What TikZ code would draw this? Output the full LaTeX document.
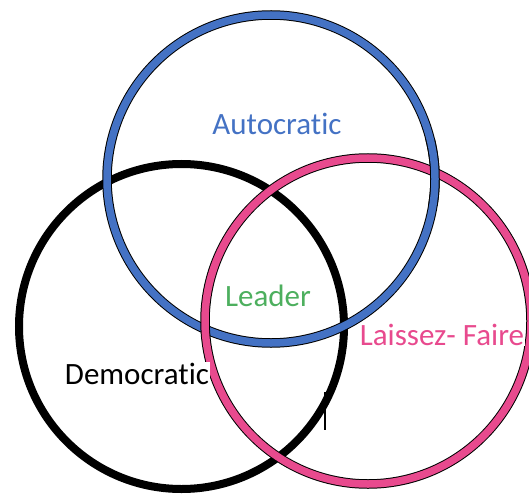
\documentclass[tikz,border=0pt]{standalone}
\usepackage{fontspec}
\setmainfont{Carlito}[Ligatures=NoCommon]
\definecolor{autoblue}{RGB}{68,114,196}
\definecolor{laissezpink}{RGB}{232,74,142}
\definecolor{leadergreen}{RGB}{77,175,94}
\begin{document}
\begin{tikzpicture}[x=1pt,y=-1pt,
  ringedge/.style={draw=black,line width=9.5pt},
  ringfill/.style={line width=7.5pt},
  label/.style={font=\fontsize{31}{36}\selectfont,anchor=base,inner sep=1pt}]
\useasboundingbox (0,0) rectangle (529,497);
\clip (0,0) rectangle (529,497);
% circle centres
\coordinate (cb) at (271,179);
\coordinate (ck) at (181.5,326.5);
\coordinate (cp) at (368,321);
% democratic ring (bottom layer)
\draw[black,line width=8pt] (ck) circle[radius=162.5];
% autocratic ring
\draw[ringedge] (cb) circle[radius=164];
\draw[ringfill,autoblue] (cb) circle[radius=164];
% laissez-faire ring
\draw[ringedge] (cp) circle[radius=163];
\draw[ringfill,laissezpink] (cp) circle[radius=163];
% autocratic ring passes over the pink one at the upper right
\begin{scope}
  \clip (405,140) rectangle (460,205);
  \draw[ringedge] (cb) circle[radius=164];
  \draw[ringfill,autoblue] (cb) circle[radius=164];
\end{scope}
% labels
\node[label,text=autoblue] (auto) at (277,135) {Autocratic};
\node[label,text=leadergreen] (lead) at (268,306) {Leader};
\node[label,fill=white,text=black] (demo) at (137,384) {Democratic};
\node[label,fill=white,text=laissezpink] (lais) at (442,345) {Laissez- Faire};
% small vertical stroke
\coordinate (s1) at (325,392);
\coordinate (s2) at (325,430);
\draw[black,line width=1.3pt] (s1) -- (s2);
\end{tikzpicture}
\end{document}
